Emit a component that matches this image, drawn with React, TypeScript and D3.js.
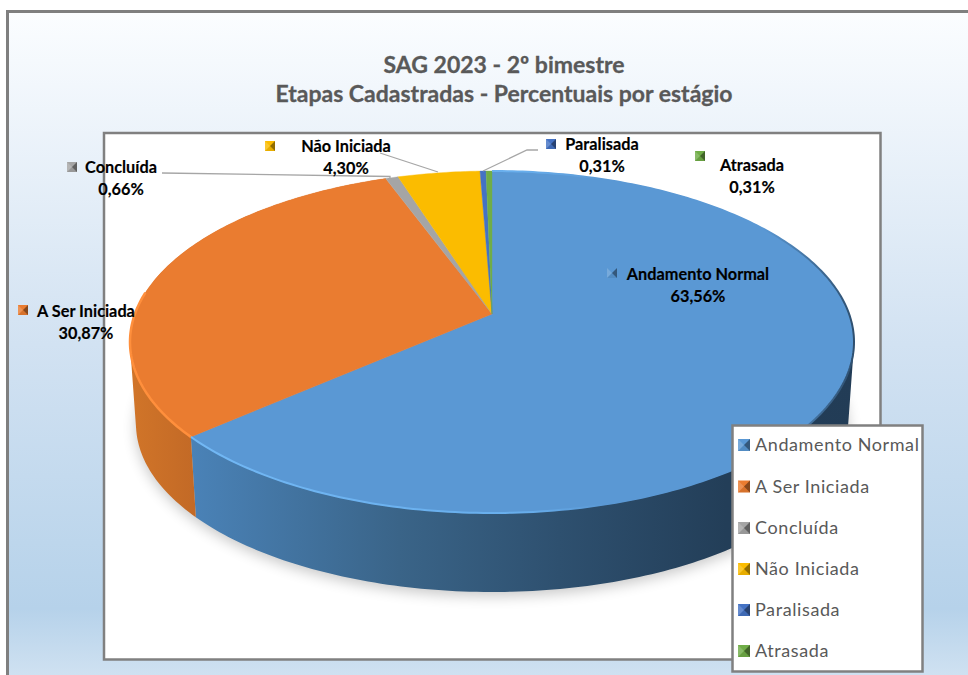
import React from "react";
import * as d3 from "d3";

const categories = ["Andamento Normal", "A Ser Iniciada", "Concluída", "Não Iniciada", "Paralisada", "Atrasada"];
const values = [63.56, 30.87, 0.66, 4.3, 0.31, 0.31];
const valueLabels = ["63,56%", "30,87%", "0,66%", "4,30%", "0,31%", "0,31%"];
const colors = ["#5a98d4", "#ea7c30", "#a5a5a5", "#fbbc00", "#4472c4", "#70ad47"];
const titleLines = ["SAG 2023 - 2º bimestre", "Etapas Cadastradas - Percentuais por estágio"];

// layout of the data labels: text centre, first baseline, swatch corner
const labelLayout = [
  { cx: 698, y: 280, sx: 607, sy: 268 },
  { cx: 86, y: 317, sx: 18, sy: 305 },
  { cx: 121, y: 173, sx: 67, sy: 162 },
  { cx: 346, y: 152, sx: 265, sy: 141 },
  { cx: 602, y: 150, sx: 546, sy: 139 },
  { cx: 752, y: 171, sx: 695, sy: 151 },
];
const legendRows = [445, 486.5, 528, 569, 610, 651];

const W = 968, H = 675;
const apexX = 492, apexY = 314;
const top = { cy: 342, rx: 362, ry: 171 };
const base = { cy: 424, rx: 356, ry: 168 };
const e = (apexY - top.cy) / top.ry;

const makeScales = (s: { cy: number; rx: number; ry: number }) => ({
  x: d3.scaleLinear().domain([-1, 1]).range([apexX - s.rx, apexX + s.rx]),
  y: d3.scaleLinear().domain([-1, 1]).range([s.cy - s.ry, s.cy + s.ry]),
});
const topS = makeScales(top);
const baseS = makeScales(base);

// perspective projection of a rim angle on the normalised ellipse
const project = (a: number): [number, number] => {
  const u = Math.sin(a), v = -Math.cos(a);
  const d = 1 + e * v;
  return [(u * Math.sqrt(1 - e * e)) / d, (v + e) / d];
};
const rim = (a0: number, a1: number, s: typeof topS): [number, number][] => {
  const n = Math.max(4, Math.ceil(Math.abs(a1 - a0) * 60));
  return d3.range(n + 1).map((i) => {
    const [px, py] = project(a0 + ((a1 - a0) * i) / n);
    return [s.x(px), s.y(py)] as [number, number];
  });
};
const line = d3.line();
const arcs = d3.pie<number>().sort(null).value((d) => d)(values);

// the side wall is swept between the two rims, as quads of one winding
const wallPath = (a0: number, a1: number) => {
  const t = rim(a0, a1, topS), b = rim(a0, a1, baseS);
  return d3.range(t.length - 1).map((i) => {
    const q: [number, number][] = [t[i], t[i + 1], b[i + 1], b[i]];
    if (d3.polygonArea(q) < 0) q.reverse();
    return (line(q) ?? "") + "Z";
  }).join("");
};

const font = "Lato, 'Open Sans', sans-serif";

function Swatch({ x, y, s, color }: { x: number; y: number; s: number; color: string }) {
  const i = s * 0.5;
  return (
    <g stroke="none">
      <rect x={x} y={y} width={s} height={s} fill={color} />
      <polygon points={`${x},${y} ${x + i},${y + i} ${x},${y + s}`} fill="#fff" opacity={0.18} />
      <polygon points={`${x + s},${y} ${x + i},${y + i} ${x + s},${y + s}`} fill="#000" opacity={0.42} />
      <polygon points={`${x},${y + s} ${x + i},${y + i} ${x + s},${y + s}`} fill="#000" opacity={0.08} />
    </g>
  );
}

export default function App() {
  const blue = arcs[0], orange = arcs[1];
  const baseOutline = rim(0, Math.PI * 2, baseS);
  return (
    <svg width={W} height={H} viewBox={`0 0 ${W} ${H}`} style={{ position: "absolute", left: 0, top: 0, display: "block" }}>
      <defs>
        <linearGradient id="bg" gradientUnits="userSpaceOnUse" x1="0" y1="12" x2="0" y2="675">
          <stop offset="0" stopColor="#fbfdff" />
          <stop offset="0.5" stopColor="#d2e2f2" />
          <stop offset="0.9" stopColor="#b6d2ea" />
          <stop offset="1" stopColor="#cfe1f1" />
        </linearGradient>
        <linearGradient id="wallBlue" gradientUnits="userSpaceOnUse" x1="192" y1="0" x2="860" y2="0">
          <stop offset="0" stopColor="#4a82b7" />
          <stop offset="0.31" stopColor="#3a6488" />
          <stop offset="0.55" stopColor="#2e506f" />
          <stop offset="0.8" stopColor="#233e58" />
          <stop offset="1" stopColor="#223c56" />
        </linearGradient>
        <linearGradient id="wallOrange" gradientUnits="userSpaceOnUse" x1="130" y1="0" x2="197" y2="0">
          <stop offset="0" stopColor="#d17529" />
          <stop offset="1" stopColor="#c26926" />
        </linearGradient>
        <linearGradient id="rimBlue" gradientUnits="userSpaceOnUse" x1="192" y1="0" x2="856" y2="0">
          <stop offset="0" stopColor="#72b8f5" />
          <stop offset="0.5" stopColor="#68aeec" />
          <stop offset="0.62" stopColor="#5a98d4" />
          <stop offset="0.86" stopColor="#5a98d4" />
          <stop offset="1" stopColor="#2d4d6c" />
        </linearGradient>
        <filter id="shadow" x="-10%" y="-10%" width="120%" height="120%">
          <feGaussianBlur stdDeviation="7" />
        </filter>
        <clipPath id="plotClip">
          <rect x={105} y={134} width={775} height={525} />
        </clipPath>
      </defs>

      {/* chart area */}
      <rect x={7.5} y={11.5} width={W} height={H} fill="url(#bg)" stroke="#7f7f7f" strokeWidth={3} />

      {titleLines.map((t, i) => (
        <text key={t} x={504} y={[72.5, 101.5][i]} textAnchor="middle" fontFamily={font} fontWeight={700} fontSize={23} fill="#595959" stroke="#595959" strokeWidth={0.3}>
          {t}
        </text>
      ))}

      {/* plot area */}
      <rect x={104} y={133} width={776.5} height={526.5} fill="#fff" stroke="#808080" strokeWidth={2.5} />

      {/* shadow */}
      <g clipPath="url(#plotClip)">
        <path d={(line(baseOutline) ?? "") + "Z"} transform="translate(0,4)" fill="#000" opacity={0.22} filter="url(#shadow)" />
      </g>

      {/* walls */}
      <path d={wallPath(blue.startAngle, blue.endAngle)} fill="url(#wallBlue)" />
      <path d={wallPath(orange.startAngle, orange.endAngle)} fill="url(#wallOrange)" />

      {/* top face */}
      {arcs.map((a, i) => (
        <path
          key={i}
          d={(line([[apexX, apexY], ...rim(a.startAngle, a.endAngle, topS)]) ?? "") + "Z"}
          fill={colors[i]}
          stroke={colors[i]}
          strokeWidth={0.4}
        />
      ))}

      {/* rim bevel */}
      <path d={line(rim(blue.startAngle, blue.endAngle, topS)) ?? ""} fill="none" stroke="url(#rimBlue)" strokeWidth={2} />
      <path d={line(rim(orange.startAngle, orange.startAngle + 0.85, topS)) ?? ""} fill="none" stroke="#ff8f3c" strokeWidth={2.5} />

      {/* leader lines */}
      <g fill="none" stroke="#a6a6a6" strokeWidth={1.3}>
        <path d={line([[162, 173], [390, 176.5], [390, 179]]) ?? ""} />
        <path d={line([[380, 153], [438, 172]]) ?? ""} />
        <path d={line([[538, 150], [527, 150], [483, 171]]) ?? ""} />
      </g>

      {/* data labels */}
      {categories.map((c, i) => {
        const l = labelLayout[i];
        return (
          <g key={c} fontFamily={font} fontWeight={700} fontSize={16.3} fill="#000" stroke="#000" strokeWidth={0.15} textAnchor="middle">
            <Swatch x={l.sx} y={l.sy} s={10} color={colors[i]} />
            <text x={l.cx} y={l.y}>{c}</text>
            <text x={l.cx} y={l.y + 21.5}>{valueLabels[i]}</text>
          </g>
        );
      })}

      {/* legend */}
      <rect x={732.5} y={425.5} width={190} height={246} fill="#fff" stroke="#808080" strokeWidth={2.5} />
      {categories.map((c, i) => (
        <g key={c}>
          <Swatch x={738} y={legendRows[i] - 6} s={12} color={colors[i]} />
          <text x={755} y={legendRows[i] + 6} fontFamily={font} fontSize={18} letterSpacing={0.6} fill="#595959">
            {c}
          </text>
        </g>
      ))}
    </svg>
  );
}
